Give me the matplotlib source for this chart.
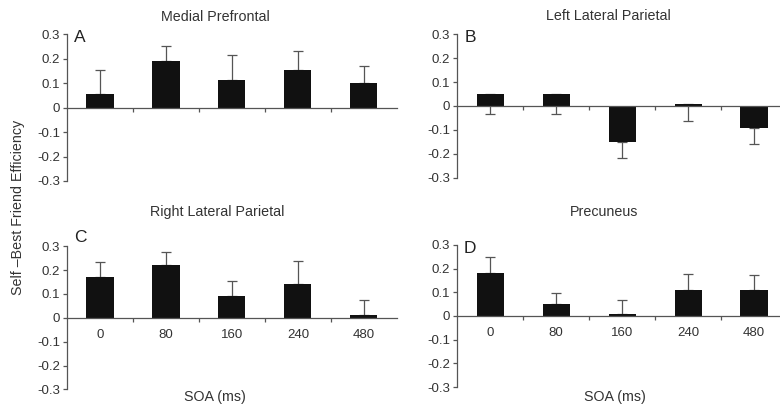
import matplotlib
matplotlib.use("Agg")
import matplotlib.pyplot as plt
import numpy as np

plt.rcParams['font.family'] = ['Liberation Sans', 'DejaVu Sans']
plt.rcParams['axes.unicode_minus'] = False

soa = ['0', '80', '160', '240', '480']
yticks = [-0.3, -0.2, -0.1, 0, 0.1, 0.2, 0.3]
ytick_labels = ['-0.3', '-0.2', '-0.1', '0', '0.1', '0.2', '0.3']

titles = ['Medial Prefrontal', 'Left Lateral Parietal', 'Right Lateral Parietal', 'Precuneus']
letters = ['A', 'B', 'C', 'D']

# bar heights and error bar lengths
medial = [0.056, 0.190, 0.112, 0.154, 0.102]
medial_err = [0.097, 0.060, 0.101, 0.076, 0.066]
left_par = [0.049, 0.050, -0.149, 0.008, -0.092]
left_par_err = [0.084, 0.083, 0.069, 0.069, 0.067]
right_par = [0.173, 0.222, 0.090, 0.141, 0.013]
right_par_err = [0.059, 0.053, 0.066, 0.096, 0.060]
precuneus = [0.180, 0.050, 0.008, 0.110, 0.110]
precuneus_err = [0.069, 0.048, 0.059, 0.065, 0.062]

txt = '#333333'
axc = '#555555'

fig = plt.figure(figsize=(7.8, 4.09), dpi=100)

# axes rectangles in figure fraction
rects = [
    [0.0859, 0.5575, 0.423, 0.359],
    [0.586, 0.5655, 0.423, 0.351],
    [0.0859, 0.048, 0.423, 0.350],
    [0.586, 0.0535, 0.423, 0.348],
]
data = [(medial, medial_err, 'up'), (left_par, left_par_err, 'down'),
        (right_par, right_par_err, 'up'), (precuneus, precuneus_err, 'up')]
letter_y = [0.98, 0.98, 1.06, 0.972]
title_xy = [(215, 17), (608, 16), (217, 212), (604, 212)]

x = np.arange(len(soa))
for i in range(4):
    ax = fig.add_axes(rects[i])
    vals, err, d = data[i]
    ax.bar(x, vals, width=0.41, color='#111111', zorder=2)
    err = np.array(err)
    if d == 'up':
        yerr = [np.zeros(5), err]
    else:
        yerr = [err, np.zeros(5)]
    ax.errorbar(x, vals, yerr=yerr, fmt='none', ecolor='#555555',
                elinewidth=0.9, capsize=3.5, capthick=0.9, zorder=1)
    ax.set_xlim(-0.5, 4.5)
    ax.set_ylim(-0.3, 0.3)
    for s in ['top', 'right']:
        ax.spines[s].set_visible(False)
    ax.spines['bottom'].set_position(('data', 0))
    ax.spines['bottom'].set_color(axc)
    ax.spines['left'].set_color(axc)
    ax.spines['bottom'].set_linewidth(0.9)
    ax.spines['left'].set_linewidth(0.9)
    ax.spines['bottom'].set_zorder(3)
    ax.set_yticks(yticks)
    ax.set_yticklabels(ytick_labels, fontsize=9.5, color=txt)
    ax.tick_params(axis='y', direction='out', length=3, width=0.9, color=axc, pad=2)
    ax.set_xticks([0.5, 1.5, 2.5, 3.5], minor=True)
    ax.tick_params(axis='x', which='minor', direction='out', length=3, width=0.9, color=axc)
    ax.set_xticks(x)
    if i >= 2:
        ax.set_xticklabels(soa, fontsize=9.5, color=txt)
    else:
        ax.set_xticklabels([])
    ax.tick_params(axis='x', which='major', length=0, pad=8)
    ax.text(0.04, letter_y[i], letters[i], transform=ax.transAxes, fontsize=12.5,
            color='#222222', ha='center', va='center')
    tx, ty = title_xy[i]
    fig.text(tx / 780, 1 - ty / 409, titles[i], fontsize=10.3, color=txt,
             ha='center', va='center')

fig.text(215 / 780, 1 - 397 / 409, 'SOA (ms)', fontsize=10.3, color=txt, ha='center', va='center')
fig.text(615 / 780, 1 - 397 / 409, 'SOA (ms)', fontsize=10.3, color=txt, ha='center', va='center')
fig.text(18 / 780, 1 - 207 / 409, 'Self \u2013Best Friend Efficiency', fontsize=10.3, color=txt,
         rotation=90, ha='center', va='center')

fig.savefig('out.png', dpi=100)
